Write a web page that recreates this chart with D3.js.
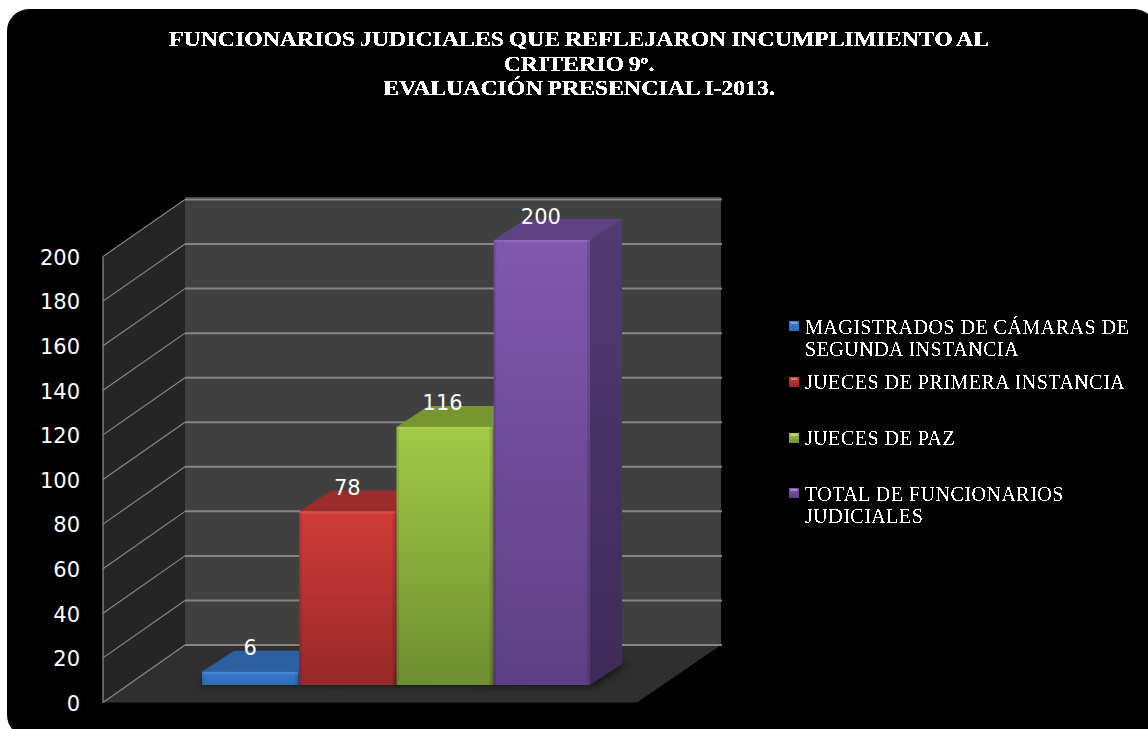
<!DOCTYPE html>
<html>
<head>
<meta charset="utf-8">
<script src="https://cdn.jsdelivr.net/npm/d3@7/dist/d3.min.js"></script>
<style>
html,body{margin:0;padding:0;background:#fff;overflow:hidden}
svg{display:block}
</style>
</head>
<body>
<div id="chart"></div>
<script>
const categories = ["MAGISTRADOS DE CÁMARAS DE SEGUNDA INSTANCIA","JUECES DE PRIMERA INSTANCIA","JUECES DE PAZ","TOTAL DE FUNCIONARIOS JUDICIALES"];
const values = [6, 78, 116, 200];
const tickValues = [0,20,40,60,80,100,120,140,160,180,200];
const titleLines = ["FUNCIONARIOS JUDICIALES QUE REFLEJARON INCUMPLIMIENTO AL","CRITERIO 9º.","EVALUACIÓN PRESENCIAL I-2013."];
const legendLines = [["MAGISTRADOS DE CÁMARAS DE","SEGUNDA INSTANCIA"],["JUECES DE PRIMERA INSTANCIA"],["JUECES DE PAZ"],["TOTAL DE FUNCIONARIOS","JUDICIALES"]];
const faceColors = [["#3b7dd2","#2f6cb8"],["#d03c38","#96282a"],["#a2ca47","#6e8e30"],["#8058ae","#5e3f84"]];
const topColors = ["#2c5f9f","#9c2c2b","#76972f","#5f4285"];
const sideColors = [["#27527f","#1f4268"],["#7e2323","#5e1a1a"],["#5f7a26","#4a601e"],["#523b72","#3e2b58"]];

const W = 1148, H = 729;
const svg = d3.select("#chart").append("svg").attr("width",W).attr("height",H);
const defs = svg.append("defs");

const yBack = d3.scaleLinear().domain([0,200]).range([645,199.5]);
const yFront = d3.scaleLinear().domain([0,200]).range([702.5,256.5]);
const yBar = d3.scaleLinear().domain([0,200]).range([685,240]);
const xBar = d3.scaleBand().domain(categories).range([202,590]).paddingInner(0.01);
const wallL = 185, wallR = 721, sideL = 103, floorR = 637;
const depthX = 32, depthY = 21;

svg.append("rect").attr("width",W).attr("height",H).attr("fill","#fff");
svg.append("rect").attr("x",7).attr("y",9).attr("width",1149).attr("height",728).attr("rx",22).attr("fill","#000");

// filters
const thr = defs.append("filter").attr("id","thr").attr("x","-2%").attr("y","-20%").attr("width","104%").attr("height","140%");
thr.append("feComponentTransfer").append("feFuncA").attr("type","discrete").attr("tableValues","0 0 1 1");
const thrB = defs.append("filter").attr("id","thrB").attr("x","-2%").attr("y","-20%").attr("width","104%").attr("height","140%");
thrB.append("feComponentTransfer").append("feFuncA").attr("type","discrete").attr("tableValues","0 1 1");
thrB.append("feGaussianBlur").attr("stdDeviation",0.45);
defs.append("filter").attr("id","blur").attr("x","-30%").attr("y","-30%").attr("width","160%").attr("height","160%")
  .append("feGaussianBlur").attr("stdDeviation",3.5);

function vGrad(id,c){
  const g = defs.append("linearGradient").attr("id",id).attr("x1",0).attr("y1",0).attr("x2",0).attr("y2",1);
  g.append("stop").attr("offset","0%").attr("stop-color",c[0]);
  g.append("stop").attr("offset","100%").attr("stop-color",c[1]);
}
faceColors.forEach((c,i)=>vGrad("face"+i,c));
sideColors.forEach((c,i)=>vGrad("side"+i,c));

// walls and floor
const poly = pts => pts.map(p=>p.join(",")).join(" ");
svg.append("polygon").attr("points",poly([[sideL,yFront(200)],[wallL,yBack(200)],[wallL,yBack(0)],[sideL,yFront(0)]])).attr("fill","#252525");
svg.append("rect").attr("x",wallL).attr("y",yBack(200)-2.5).attr("width",wallR-wallL).attr("height",yBack(0)-yBack(200)+2.5).attr("fill","#404040");
svg.append("polygon").attr("points",poly([[sideL,yFront(0)],[wallL,yBack(0)],[wallR,yBack(0)],[floorR,yFront(0)]])).attr("fill","#2f2f2f");

// gridlines
svg.append("g").selectAll("line").data(tickValues).join("line")
  .attr("x1",wallL).attr("x2",wallR+1).attr("y1",d=>yBack(d)).attr("y2",d=>yBack(d))
  .attr("stroke","#858585").attr("stroke-width",2);
svg.append("g").selectAll("line").data(tickValues).join("line")
  .attr("x1",sideL).attr("x2",wallL).attr("y1",d=>yFront(d)).attr("y2",d=>yBack(d))
  .attr("stroke","#8a8a8a").attr("stroke-width",1.1);
svg.append("line").attr("x1",sideL).attr("x2",sideL).attr("y1",yFront(200)).attr("y2",yFront(0)).attr("stroke","#8a8a8a").attr("stroke-width",1.3);

// floor shadow
svg.append("polygon")
  .attr("points",poly([[xBar(categories[0])-3,yBar(0)],[xBar(categories[0])+depthX,yBar(0)-depthY],[xBar(categories[3])+xBar.bandwidth()+depthX+6,yBar(0)-depthY],[xBar(categories[3])+xBar.bandwidth()+3,yBar(0)+1]]))
  .attr("fill","#000").attr("opacity",0.6).attr("filter","url(#blur)");

// bars
const bars = svg.append("g").selectAll("g").data(values).join("g");
bars.each(function(v,i){
  const g = d3.select(this), x0 = xBar(categories[i]), bw = xBar.bandwidth(), x1 = x0+bw, yt = yBar(v), yb = yBar(0);
  g.append("polygon").attr("points",poly([[x1,yt],[x1+depthX,yt-depthY],[x1+depthX,yb-depthY],[x1,yb]])).attr("fill",`url(#side${i})`);
  g.append("polygon").attr("points",poly([[x0,yt],[x0+depthX,yt-depthY],[x1+depthX,yt-depthY],[x1,yt]])).attr("fill",topColors[i]);
  g.append("rect").attr("x",x0).attr("y",yt).attr("width",bw).attr("height",yb-yt).attr("fill",`url(#face${i})`);
  // bevel
  g.append("rect").attr("x",x0).attr("y",yt).attr("width",2.5).attr("height",yb-yt).attr("fill","#000").attr("opacity",0.1);
  g.append("rect").attr("x",x1-3).attr("y",yt).attr("width",3).attr("height",yb-yt).attr("fill","#000").attr("opacity",0.12);
  g.append("rect").attr("x",x0).attr("y",yt).attr("width",bw).attr("height",2).attr("fill","#fff").attr("opacity",0.1);
});

// data labels
svg.append("g").selectAll("text").data(values).join("text")
  .attr("x",(d,i)=>xBar(categories[i])+xBar.bandwidth()/2-(i===2?2:(i===3?1:0)))
  .attr("y",d=>yBar(d)-24).attr("dy","0.36em")
  .attr("text-anchor","middle").attr("fill","#fff")
  .style("font","21px 'DejaVu Sans'")
  .text(d=>d);

// value axis
const axis = d3.axisLeft(yFront).tickValues(tickValues).tickSize(0).tickPadding(0);
const axG = svg.append("g").attr("transform","translate(80,1)").call(axis);
axG.select(".domain").remove();
axG.selectAll("text").attr("fill","#fff").style("font","21px 'DejaVu Sans'");

// title
const titleY = [46,71,95];
svg.append("g").attr("filter","url(#thrB)").selectAll("text").data(titleLines).join("text")
  .attr("transform",(d,i)=>`translate(579,${titleY[i]}) scale(1.19,1)`).attr("text-anchor","middle").attr("fill","#fff")
  .style("font","bold 20px 'Liberation Serif'").style("word-spacing","-1px")
  .text(d=>d);

// legend
const legendMarkY = [326,382,438,493];
const legendBase = [[334,356],[389],[445],[501,523]];
const leg = svg.append("g").selectAll("g").data(categories).join("g");
leg.each(function(c,i){
  const g = d3.select(this);
  g.append("rect").attr("x",789).attr("y",legendMarkY[i]-5).attr("width",10).attr("height",10).attr("fill",`url(#face${i})`);
  g.append("rect").attr("x",791).attr("y",legendMarkY[i]-4).attr("width",6).attr("height",2).attr("fill","#fff").attr("opacity",0.35);
  g.append("g").attr("filter","url(#thr)").selectAll("text").data(legendLines[i]).join("text")
    .attr("x",805).attr("y",(d,k)=>legendBase[i][k]).attr("fill","#fff")
    .style("font","20px 'Liberation Serif'").style("letter-spacing","0.5px")
    .text(d=>d);
});
</script>
</body>
</html>
